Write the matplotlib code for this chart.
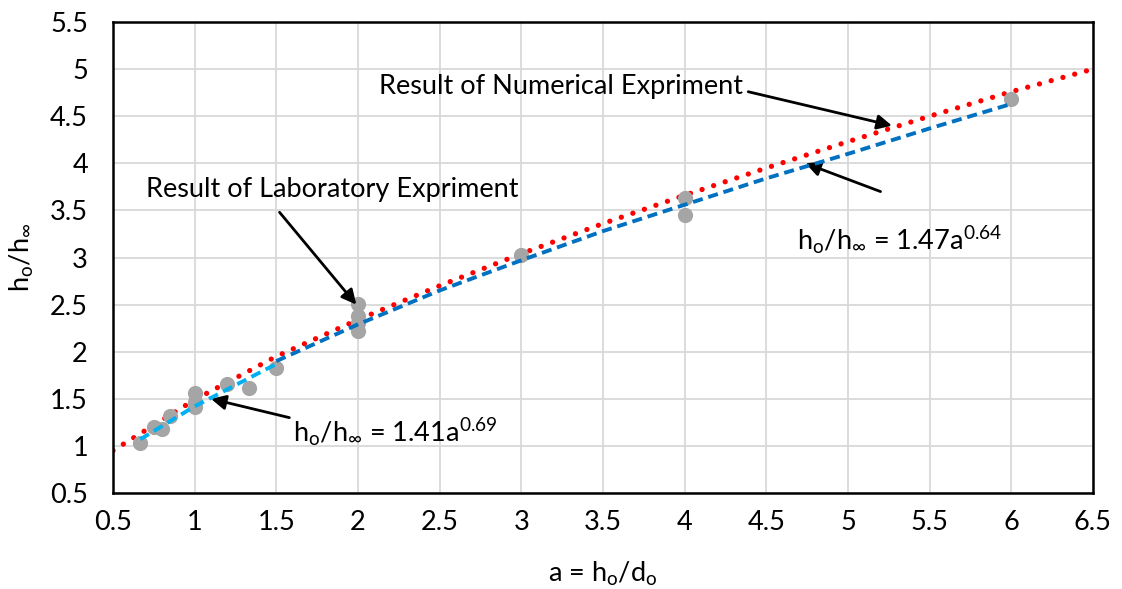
import matplotlib
matplotlib.use('Agg')
import matplotlib.pyplot as plt

# measured points (laboratory)
a_pts = [0.667, 0.75, 0.8, 0.85, 1.0, 1.0, 1.0, 1.2, 1.33, 1.5, 2.0, 2.0, 2.0, 2.0, 3.0, 4.0, 4.0, 6.0]
h_pts = [1.03, 1.20, 1.18, 1.32, 1.56, 1.47, 1.41, 1.66, 1.61, 1.83, 2.51, 2.38, 2.30, 2.22, 3.03, 3.63, 3.45, 4.68]

# red dotted curve (numerical)
a_num = [0.5, 1.0, 1.5, 2.0, 2.5, 3.0, 3.5, 4.0, 4.5, 5.0, 5.5, 6.0, 6.5]
h_num = [0.95, 1.49, 1.95, 2.34, 2.70, 3.04, 3.36, 3.66, 3.95, 4.23, 4.50, 4.76, 5.00]

# light blue dashed fit (small a)
a_fit1 = [0.667, 0.8, 1.0, 1.2, 1.5]
h_fit1 = [1.07, 1.21, 1.42, 1.60, 1.87]

# dark blue dashed fit (large a)
a_fit2 = [1.5, 2.0, 2.5, 3.0, 3.5, 4.0, 4.5, 5.0, 5.5, 6.0]
h_fit2 = [1.90, 2.29, 2.65, 2.97, 3.28, 3.56, 3.84, 4.10, 4.37, 4.63]

xticks = [0.5, 1, 1.5, 2, 2.5, 3, 3.5, 4, 4.5, 5, 5.5, 6, 6.5]
yticks = [0.5, 1, 1.5, 2, 2.5, 3, 3.5, 4, 4.5, 5, 5.5]

plt.rcParams['font.family'] = ['Lato', 'DejaVu Sans']
plt.rcParams['mathtext.fontset'] = 'custom'
plt.rcParams['mathtext.rm'] = 'Lato'
plt.rcParams['mathtext.it'] = 'Lato'

fs = 19.5
fig = plt.figure(figsize=(11.22, 5.89), dpi=100)
ax = fig.add_axes([0.1007, 0.163, 0.8733, 0.7996])

ax.plot(a_num, h_num, color='#FF0000', lw=3.8, linestyle=(0, (0.01, 2.3)),
        dash_capstyle='round', zorder=2)
ax.scatter(a_pts, h_pts, s=120, color='#A5A5A5', zorder=3, linewidths=0)
ax.plot(a_fit1, h_fit1, color='#00B0F0', lw=2.8, linestyle=(0, (2.6, 1.5)), zorder=4)
ax.plot(a_fit2, h_fit2, color='#0070C0', lw=2.8, linestyle=(0, (2.6, 1.5)), zorder=4)

ax.set_xlim(0.5, 6.5)
ax.set_ylim(0.5, 5.5)
ax.set_xticks(xticks)
ax.set_yticks(yticks)
ax.set_xticklabels([('%g' % v) for v in xticks], fontsize=fs)
ax.set_yticklabels([('%g' % v) for v in yticks], fontsize=fs)
ax.tick_params(axis='x', length=0, pad=12)
ax.tick_params(axis='y', length=0, pad=18)
ax.grid(True, color='#D9D9D9', lw=1.3)
ax.set_axisbelow(True)
for s in ax.spines.values():
    s.set_linewidth(1.8)
    s.set_color('black')

ax.set_xlabel(r'a = h$_\mathrm{o}$/d$_\mathrm{o}$', fontsize=fs, labelpad=18)
ax.set_ylabel(r'h$_\mathrm{o}$/h$_\infty$', fontsize=fs, labelpad=10)

arw = dict(arrowstyle='-|>', color='black', lw=2, mutation_scale=22, shrinkA=0, shrinkB=0)

ax.text(2.13, 4.82, 'Result of Numerical Expriment', fontsize=fs, va='center', ha='left')
ax.annotate('', xy=(5.27, 4.40), xytext=(4.39, 4.76), arrowprops=arw)

ax.text(0.70, 3.72, 'Result of Laboratory Expriment', fontsize=fs, va='center', ha='left')
ax.annotate('', xy=(1.99, 2.50), xytext=(1.52, 3.48), arrowprops=arw)

ax.text(1.60, 1.15, r'h$_\mathrm{o}$/h$_\infty$ = 1.41a$^{0.69}$', fontsize=fs, va='center', ha='left')
ax.annotate('', xy=(1.10, 1.50), xytext=(1.58, 1.30), arrowprops=arw)

ax.text(4.69, 3.19, r'h$_\mathrm{o}$/h$_\infty$ = 1.47a$^{0.64}$', fontsize=fs, va='center', ha='left')
ax.annotate('', xy=(4.74, 4.00), xytext=(5.20, 3.70), arrowprops=arw)

plt.savefig('out.png', dpi=100)
